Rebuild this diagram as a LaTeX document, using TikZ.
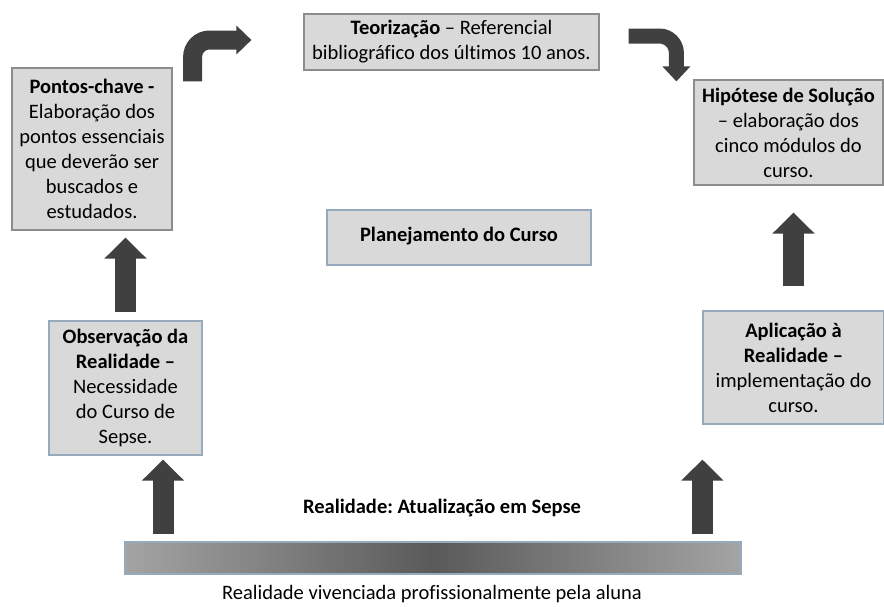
\documentclass[tikz,border=0pt]{standalone}
\usepackage{fontspec}
\setmainfont{Carlito}[Ligatures=NoCommon]
\usetikzlibrary{arrows.meta}
\definecolor{boxfill}{HTML}{D9D9D9}
\definecolor{boxline}{HTML}{8C8C8C}
\definecolor{boxblue}{HTML}{97A9BC}
\definecolor{arrowgray}{HTML}{404040}
\definecolor{barlight}{HTML}{A4A4A4}
\definecolor{bardark}{HTML}{5A5A5A}
\frenchspacing

\begin{document}
\begin{tikzpicture}
[x=1pt,y=-1pt,
 etapa/.style={draw=boxline,fill=boxfill,line width=1.2pt,align=center,inner sep=0pt,
   font=\fontsize{20.5}{25}\selectfont},
 etapaazul/.style={etapa,draw=boxblue},
 subida/.style={draw=arrowgray,line width=21pt,-{Triangle[length=21pt,width=41pt]}},
 curva/.style={draw=arrowgray,rounded corners=17pt}]
\clip (0,0) rectangle (884,606);
% etapas do arco
\node[etapa,minimum width=295pt,minimum height=56pt] (teo) at (451.5,42)
	{\textbf{Teorização} – Referencial\\bibliográfico dos últimos 10 anos.};
\node[etapa,minimum width=160pt,minimum height=162pt] (pts) at (92,149)
	{\textbf{Pontos-chave -}\\Elaboração dos\\pontos essenciais\\que deverão ser\\buscados e\\estudados.};
\node[etapa,minimum width=189pt,minimum height=105pt] (hip) at (788.5,132.5)
	{\textbf{Hipótese de Solução}\\– elaboração dos\\cinco módulos do\\curso.};
\node[etapaazul,minimum width=264pt,minimum height=55pt] (plan) at (459,237.5)
	{\raisebox{7pt}{\textbf{Planejamento do Curso}}};
\node[etapaazul,minimum width=153pt,minimum height=134pt] (obs) at (125.5,388)
	{\textbf{Observação da}\\\textbf{Realidade –}\\Necessidade\\do Curso de\\Sepse.};
\node[etapaazul,minimum width=181pt,minimum height=113pt] (apl) at (793.5,367.5)
	{\textbf{Aplicação à}\\\textbf{Realidade –}\\implementação do\\curso.};
% realidade
\node[draw=boxblue,line width=1.2pt,left color=barlight,right color=barlight,middle color=bardark,
	minimum width=616pt,minimum height=32pt] (bar) at (433,558) {};
\node[font=\fontsize{20.5}{25}\selectfont\bfseries] (tema) at (442,508) {Realidade: Atualização em Sepse};
\node[font=\fontsize{20.5}{25}\selectfont,inner sep=0pt] (base) at (432,594) {Realidade vivenciada profissionalmente pela aluna};
% setas
\draw[subida,shorten <=7pt,shorten >=4pt] ([xshift=37.5pt]obs.south |- bar.north) -- ([xshift=37.5pt]obs.south);
\draw[subida,shorten <=8pt,shorten >=7pt] (obs.north) -- (obs.north |- pts.south);
\draw[subida,shorten <=7pt,shorten >=35pt] (apl.south west |- bar.north) -- (apl.south west);
\draw[subida,shorten <=24pt,shorten >=27pt] (apl.north) -- (apl.north |- hip.south);
\coordinate (pe) at ([xshift=20pt,yshift=-14pt]pts.north east);
\coordinate (te) at ([xshift=29pt,yshift=6pt]teo.east);
\draw[curva,line width=19pt,-{Triangle[length=15pt,width=28pt]}] (pe) |- ([xshift=-52pt,yshift=2pt]teo.west);
\draw[curva,line width=15pt,-{Triangle[length=15pt,width=27pt]}] (te) -| ([xshift=-17pt,yshift=-2pt]hip.north west);
\end{tikzpicture}
\end{document}
